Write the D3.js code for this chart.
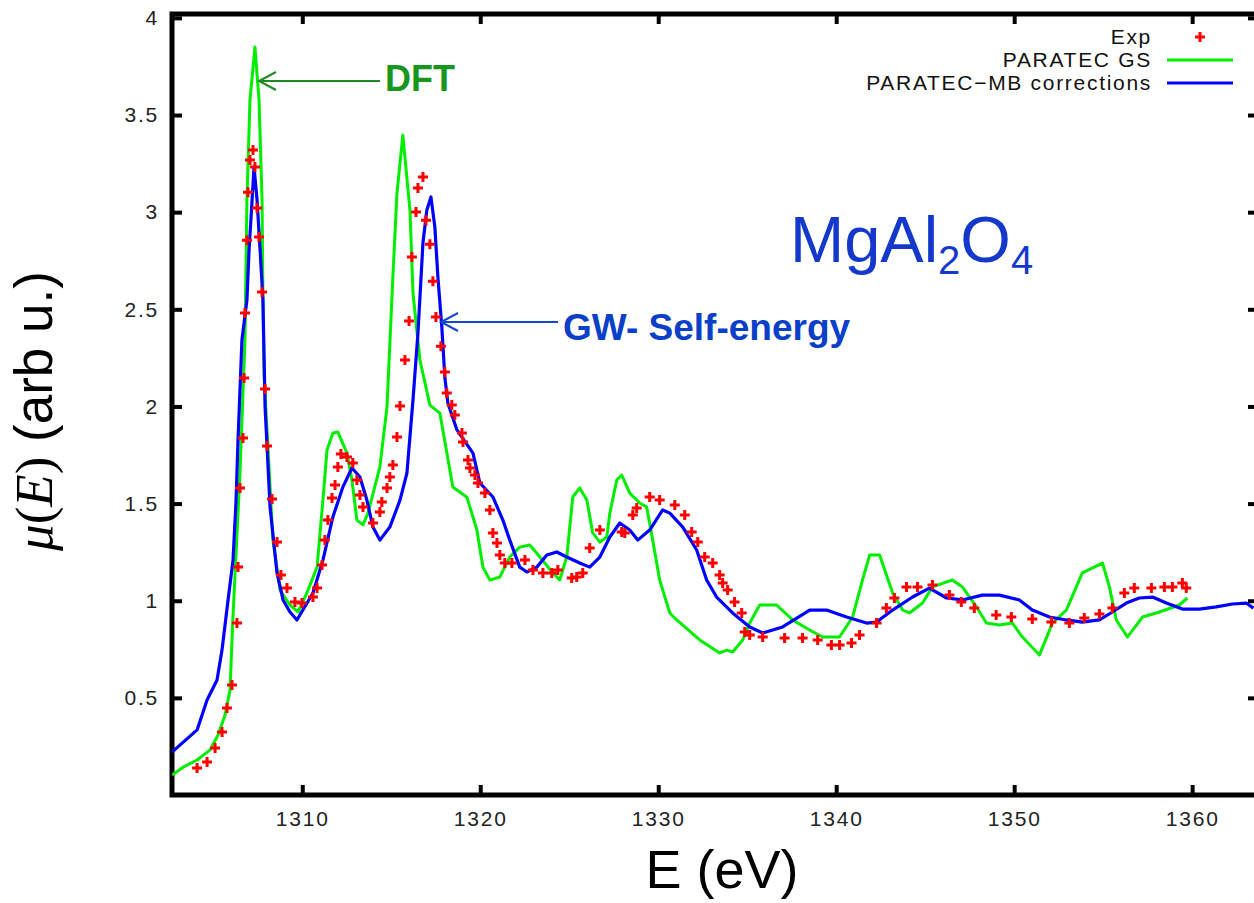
<!DOCTYPE html>
<html>
<head>
<meta charset="utf-8">
<script src="https://cdn.jsdelivr.net/npm/d3@7"></script>
<style>
body { margin: 0; background: #fff; }
svg { display: block; }
</style>
</head>
<body>
<div id="chart"></div>
<script>
// experimental points (E in eV, mu in arb. u.)
var expE = [1304.09,1304.65,1305.10,1305.49,1305.77,1306.05,1306.33,1306.39,1306.50,1306.67,1306.73,1306.78,1306.89,1306.95,1307.06,1307.23,1307.34,1307.46,1307.57,1307.74,1307.91,1308.02,1308.30,1308.58,1308.80,1309.14,1309.59,1309.98,1310.60,1310.83,1311.11,1311.27,1311.44,1311.67,1311.84,1312.00,1312.17,1312.51,1312.84,1313.07,1313.24,1313.41,1313.97,1314.36,1314.47,1314.76,1314.92,1315.09,1315.32,1315.49,1315.77,1316.00,1316.16,1316.39,1316.50,1316.78,1316.95,1317.17,1317.34,1317.51,1317.79,1318.01,1318.12,1318.40,1318.57,1318.97,1319.03,1319.31,1319.42,1319.70,1319.87,1320.26,1320.54,1320.71,1320.94,1321.10,1321.38,1321.78,1322.51,1322.96,1323.52,1324.02,1324.36,1325.14,1325.42,1325.76,1326.15,1326.72,1327.95,1328.12,1328.57,1328.79,1329.52,1330.08,1330.93,1331.49,1331.88,1332.22,1332.61,1333.06,1333.45,1333.62,1333.90,1334.29,1334.69,1334.86,1335.14,1335.87,1337.10,1338.11,1338.96,1339.73,1340.19,1340.86,1341.31,1342.27,1342.82,1343.27,1343.95,1344.57,1345.41,1346.36,1347.03,1347.76,1348.99,1349.84,1351.02,1352.09,1353.10,1353.94,1354.79,1355.52,1356.19,1356.75,1357.71,1358.44,1358.89,1359.45,1359.67];
var expMu = [0.139,0.170,0.242,0.324,0.448,0.566,0.885,1.173,1.580,1.837,2.146,2.481,2.856,3.103,3.268,3.320,3.232,3.021,2.872,2.589,2.090,1.796,1.523,1.302,1.132,1.065,0.993,0.988,1.019,1.065,1.184,1.312,1.415,1.529,1.596,1.688,1.755,1.740,1.709,1.621,1.544,1.482,1.400,1.457,1.508,1.580,1.637,1.698,1.843,2.002,2.239,2.440,2.769,3.001,3.124,3.181,2.959,2.835,2.645,2.460,2.310,2.177,2.069,2.007,1.956,1.863,1.817,1.724,1.683,1.647,1.606,1.554,1.467,1.349,1.297,1.235,1.194,1.194,1.209,1.158,1.143,1.143,1.158,1.117,1.122,1.143,1.271,1.364,1.354,1.348,1.441,1.477,1.534,1.518,1.493,1.441,1.354,1.302,1.225,1.194,1.132,1.091,1.055,0.993,0.937,0.839,0.823,0.813,0.808,0.808,0.798,0.772,0.772,0.782,0.823,0.885,0.962,1.014,1.071,1.071,1.081,1.029,0.993,0.962,0.926,0.916,0.906,0.890,0.885,0.911,0.932,0.962,1.040,1.065,1.065,1.071,1.071,1.091,1.065];

// PARATEC ground state
var gsE = [1302.68,1303.41,1304.09,1304.82,1305.27,1305.66,1305.94,1306.09,1306.50,1306.78,1306.89,1307.06,1307.34,1307.57,1307.74,1307.79,1307.85,1308.35,1308.75,1309.31,1309.76,1310.26,1310.83,1311.16,1311.39,1311.72,1312.00,1312.51,1312.79,1313.07,1313.41,1313.69,1314.36,1314.76,1315.09,1315.32,1315.65,1316.05,1316.22,1316.61,1317.17,1317.73,1318.46,1319.25,1319.81,1320.15,1320.54,1321.10,1321.66,1322.22,1322.78,1323.35,1324.08,1324.47,1324.86,1325.20,1325.59,1325.99,1326.32,1326.72,1327.11,1327.28,1327.67,1327.95,1328.40,1328.96,1329.35,1329.69,1330.08,1330.65,1331.04,1332.33,1333.45,1333.85,1334.18,1334.75,1335.14,1335.70,1336.65,1337.55,1338.51,1339.24,1340.19,1340.92,1341.48,1341.88,1342.44,1343.17,1343.73,1344.12,1344.85,1345.41,1346.53,1347.09,1347.88,1348.44,1349.17,1349.90,1350.46,1351.42,1352.15,1352.93,1353.83,1354.96,1355.35,1355.74,1356.36,1357.21,1358.16,1359.28,1359.73];
var gsMu = [0.103,0.149,0.180,0.232,0.309,0.412,0.540,0.885,1.657,2.342,3.062,3.577,3.850,3.577,3.062,2.548,2.172,1.312,1.055,0.978,0.942,1.040,1.173,1.518,1.776,1.863,1.868,1.760,1.621,1.415,1.390,1.451,1.688,1.997,2.666,3.098,3.397,3.011,2.584,2.239,2.007,1.966,1.585,1.533,1.364,1.173,1.106,1.122,1.225,1.276,1.287,1.225,1.143,1.107,1.225,1.534,1.580,1.518,1.349,1.302,1.328,1.451,1.621,1.647,1.554,1.503,1.482,1.312,1.107,0.937,0.901,0.798,0.731,0.746,0.736,0.798,0.885,0.978,0.978,0.901,0.849,0.813,0.813,0.916,1.107,1.235,1.235,1.040,0.952,0.937,0.988,1.071,1.107,1.071,0.968,0.885,0.875,0.885,0.813,0.721,0.885,0.952,1.143,1.194,1.071,0.901,0.813,0.916,0.942,0.978,1.014];

// PARATEC with many-body corrections
var mbE = [1302.68,1304.09,1304.65,1305.21,1305.49,1305.83,1306.11,1306.28,1306.39,1306.61,1306.89,1307.01,1307.18,1307.29,1307.46,1307.63,1307.79,1307.91,1308.19,1308.58,1308.92,1309.31,1309.70,1310.60,1311.16,1311.72,1312.28,1312.79,1313.24,1313.63,1313.97,1314.36,1314.92,1315.49,1315.88,1316.22,1316.50,1316.78,1317.00,1317.23,1317.45,1317.62,1317.84,1318.01,1318.18,1318.69,1319.59,1319.98,1320.71,1321.27,1321.66,1322.22,1322.62,1323.18,1323.74,1324.30,1324.86,1325.59,1326.15,1326.72,1327.28,1327.84,1328.40,1328.85,1329.52,1330.25,1330.65,1331.38,1332.16,1332.72,1333.28,1334.18,1335.14,1335.87,1336.99,1338.51,1339.46,1340.58,1341.71,1342.27,1343.17,1344.29,1345.24,1346.20,1347.09,1348.21,1349.17,1350.29,1351.02,1351.98,1352.93,1353.83,1354.79,1355.52,1356.30,1357.03,1357.77,1358.55,1359.45,1360.41,1361.36,1362.26,1363.04,1363.44];
var mbMu = [0.221,0.335,0.489,0.592,0.746,1.004,1.209,1.518,1.827,2.342,2.548,2.805,3.062,3.232,3.062,2.805,2.548,1.997,1.482,1.143,1.004,0.942,0.901,1.040,1.209,1.431,1.585,1.683,1.637,1.518,1.379,1.312,1.379,1.518,1.657,2.033,2.378,2.841,3.011,3.078,2.923,2.666,2.409,2.151,2.018,1.879,1.760,1.606,1.534,1.415,1.312,1.173,1.148,1.173,1.235,1.251,1.225,1.194,1.173,1.225,1.328,1.400,1.364,1.312,1.364,1.467,1.451,1.379,1.261,1.107,1.019,0.937,0.865,0.834,0.865,0.952,0.952,0.916,0.885,0.890,0.952,1.019,1.065,1.014,1.004,1.029,1.029,1.004,0.952,0.916,0.901,0.890,0.901,0.942,0.988,1.014,1.019,0.988,0.957,0.957,0.968,0.983,0.988,0.962];

var xTicks = [1310, 1320, 1330, 1340, 1350, 1360];
var yTicks = [0.5, 1, 1.5, 2, 2.5, 3, 3.5, 4];
var seriesNames = ["Exp", "PARATEC GS", "PARATEC\u2212MB corrections"];

var W = 1254, H = 903;
var pL = 172, pR = 1258, pT = 14, pB = 795;

var svg = d3.select("#chart").append("svg")
    .attr("width", W).attr("height", H)
    .style("font-family", "'Liberation Sans', Arial, sans-serif")

var x = d3.scaleLinear().domain([1302.68, 1363.7]).range([pL, pR])
var y = d3.scaleLinear().domain([0, 4.02]).range([pB, pT])

svg.append("clipPath").attr("id", "plotclip")
    .append("rect").attr("x", pL).attr("y", pT)
    .attr("width", pR - pL).attr("height", pB - pT)

// axes, ticks pointing inwards
function styleAxis(g) {
    g.select(".domain").remove()
    g.selectAll(".tick line").attr("stroke", "#000").attr("stroke-width", 4)
    g.selectAll(".tick text").attr("fill", "#222")
        .style("font-size", "21px").style("letter-spacing", "1.8px")
}
svg.append("g").attr("transform", "translate(0," + pB + ")")
    .call(d3.axisBottom(x).tickValues(xTicks).tickSize(-10).tickPadding(16).tickFormat(d3.format("d")))
    .call(styleAxis)
svg.append("g").attr("transform", "translate(0," + pT + ")")
    .call(d3.axisTop(x).tickValues(xTicks).tickSize(-10).tickFormat(""))
    .call(styleAxis)
svg.append("g").attr("transform", "translate(" + pL + ",0)")
    .call(d3.axisLeft(y).tickValues(yTicks).tickSize(-10).tickPadding(13).tickFormat(function(d){ return String(d); }))
    .call(styleAxis)
svg.append("g").attr("transform", "translate(" + pR + ",0)")
    .call(d3.axisRight(y).tickValues(yTicks).tickSize(-10).tickFormat(""))
    .call(styleAxis)

svg.append("rect")
    .attr("x", pL).attr("y", pT)
    .attr("width", pR - pL).attr("height", pB - pT)
    .attr("fill", "none").attr("stroke", "#000").attr("stroke-width", 5)

var plot = svg.append("g").attr("clip-path", "url(#plotclip)")

var line = d3.line()
    .x(function(d){ return x(d[0]); })
    .y(function(d){ return y(d[1]); })

plot.append("path")
    .datum(d3.zip(gsE, gsMu))
    .attr("d", line)
    .attr("fill", "none").attr("stroke", "#00ee00").attr("stroke-width", 3)
    .attr("stroke-linejoin", "round")

plot.append("path")
    .datum(d3.zip(mbE, mbMu))
    .attr("d", line)
    .attr("fill", "none").attr("stroke", "#0000ff").attr("stroke-width", 3.2)
    .attr("stroke-linejoin", "round")

var cross = "M-5,0H5M0,-5V5"
plot.selectAll(".exp")
    .data(d3.zip(expE, expMu)).enter()
    .append("path").attr("class", "exp")
    .attr("transform", function(d){ return "translate(" + x(d[0]) + "," + y(d[1]) + ")"; })
    .attr("d", cross)
    .attr("stroke", "#ff0000").attr("stroke-width", 3)

// legend
var leg = svg.append("g")
var legY = [37, 60, 83]
leg.selectAll("text")
    .data(seriesNames).enter()
    .append("text")
    .attr("x", 1152).attr("y", function(d,i){ return legY[i]; })
    .attr("dy", "0.35em")
    .attr("text-anchor", "end")
    .style("font-size", "21px")
    .style("letter-spacing", "1.7px")
    .attr("fill", "#111")
    .text(function(d){ return d; })
leg.append("path")
    .attr("transform", "translate(1200," + legY[0] + ")")
    .attr("d", cross).attr("stroke", "#ff0000").attr("stroke-width", 3)
leg.append("line")
    .attr("x1", 1167).attr("x2", 1233).attr("y1", legY[1]).attr("y2", legY[1])
    .attr("stroke", "#00ee00").attr("stroke-width", 3)
leg.append("line")
    .attr("x1", 1167).attr("x2", 1233).attr("y1", legY[2]).attr("y2", legY[2])
    .attr("stroke", "#0000ff").attr("stroke-width", 3)

// axis titles
svg.append("text")
    .attr("x", 722).attr("y", 888)
    .attr("text-anchor", "middle")
    .style("font-size", "54px")
    .text("E (eV)")

var ylab = svg.append("text")
    .attr("transform", "translate(52,411) rotate(-90)")
    .attr("text-anchor", "middle")
    .style("font-size", "53px")
ylab.append("tspan")
    .style("font-family", "'Liberation Serif', 'DejaVu Serif', serif")
    .style("font-style", "italic").text("\u03bc")
ylab.append("tspan")
    .style("font-family", "'Liberation Serif', 'DejaVu Serif', serif").text("(")
ylab.append("tspan")
    .style("font-family", "'Liberation Serif', 'DejaVu Serif', serif")
    .style("font-style", "italic").text("E")
ylab.append("tspan")
    .style("font-family", "'Liberation Serif', 'DejaVu Serif', serif").text(")")
ylab.append("tspan").text(" (arb u.)")

// compound label
var comp = svg.append("text")
    .attr("x", 790).attr("y", 262)
    .style("font-size", "65px")
    .attr("fill", "#1438cc")
comp.append("tspan").text("MgAl")
comp.append("tspan").attr("dy", 12).style("font-size", "40px").text("2")
comp.append("tspan").attr("dy", -12).text("O")
comp.append("tspan").attr("dy", 12).style("font-size", "40px").text("4")

// annotations with arrows
function arrow(x1, x2, yy, color) {
    svg.append("line").attr("x1", x1).attr("x2", x2).attr("y1", yy).attr("y2", yy)
        .attr("stroke", color).attr("stroke-width", 2)
    svg.append("path")
        .attr("d", "M" + (x2 + 17) + "," + (yy - 9) + "L" + x2 + "," + yy + "L" + (x2 + 17) + "," + (yy + 9))
        .attr("fill", "none").attr("stroke", color).attr("stroke-width", 2)
}
arrow(380, 259, 81, "#1f8a1f")
svg.append("text")
    .attr("x", 385).attr("y", 91)
    .style("font-size", "36px").style("font-weight", "bold")
    .attr("fill", "#19961e")
    .text("DFT")

arrow(558, 441, 322, "#1446cc")
svg.append("text")
    .attr("x", 563).attr("y", 340)
    .style("font-size", "37px").style("font-weight", "bold")
    .attr("fill", "#0a40c8")
    .text("GW- Self-energy")
</script>
</body>
</html>
